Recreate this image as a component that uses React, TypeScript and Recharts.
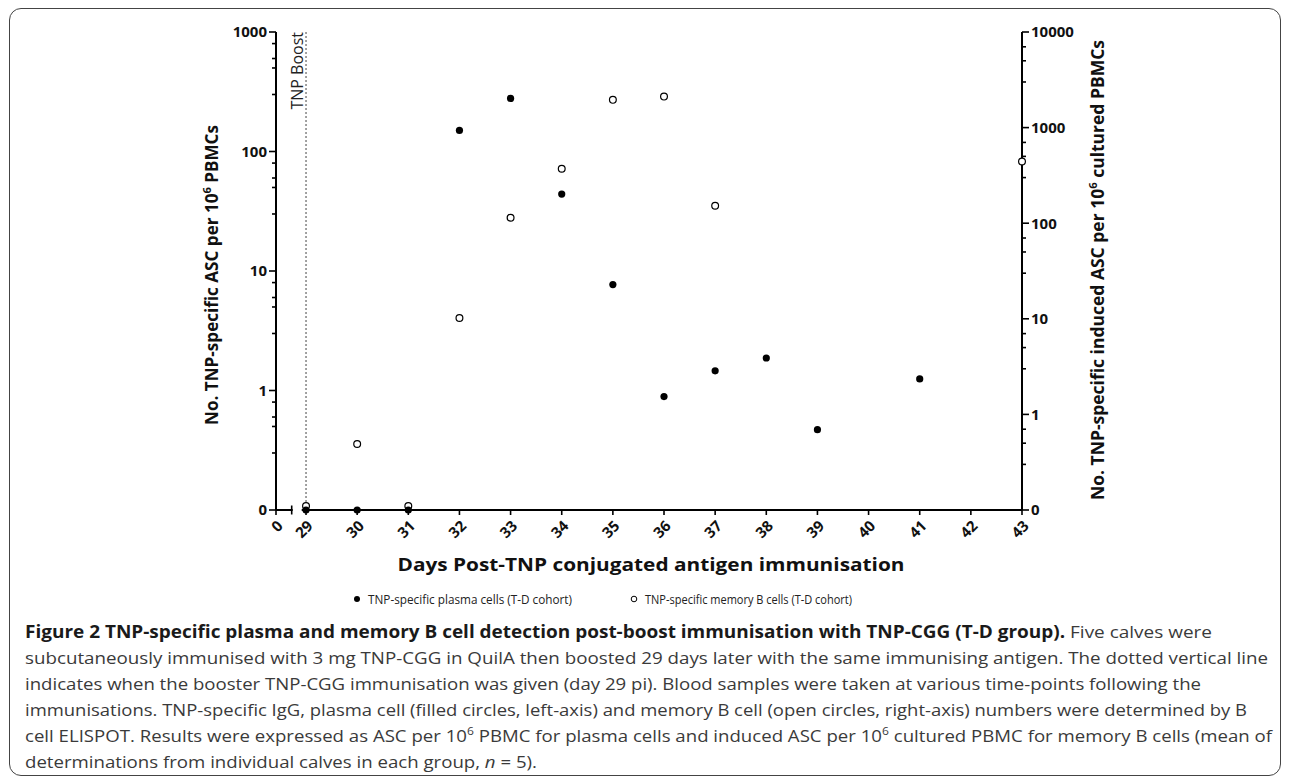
import React from "react";
import { ScatterChart, Scatter, XAxis, YAxis, ReferenceLine } from "recharts";

// values (0 = below detection, drawn on the "0" tick)
const plasmaDays = [29, 30, 31, 32, 33, 34, 35, 36, 37, 38, 39, 41];
const plasmaCells = [0, 0, 0, 150, 278, 44, 7.7, 0.89, 1.46, 1.87, 0.47, 1.25];
const memoryDays = [29, 30, 31, 32, 33, 34, 35, 36, 37, 43];
const memoryCells = [0.11, 0.49, 0.11, 10.2, 114, 371, 1950, 2110, 152, 442];

const dayTicks = [0, 29, 30, 31, 32, 33, 34, 35, 36, 37, 38, 39, 40, 41, 42, 43];
const leftMajors = [0, 1, 10, 100, 1000];
const rightMajors = [0, 1, 10, 100, 1000, 10000];
const leftMinorSteps = [3, 5, 6, 8];
const rightMinorSteps = [3, 5, 7];

// log axes can't show 0, so "0" sits one decade under 1
const LOG_FLOOR = 0.1;
// broken x axis: day 0 is squeezed in just left of day 29
const X_ZERO = 28.413;
const X_BREAK = 28.72;

const FONT = "'Open Sans', sans-serif";

const toLog = (v: number) => (v === 0 ? LOG_FLOOR : v);
const plasmaData = plasmaDays.map((d, i) => ({ day: d, value: toLog(plasmaCells[i]) }));
const memoryData = memoryDays.map((d, i) => ({ day: d, value: toLog(memoryCells[i]) }));

function logTicks(majors: number[], steps: number[]) {
  const out: number[] = [];
  majors.forEach((m, i) => {
    const base = toLog(m);
    out.push(base);
    if (i < majors.length - 1) steps.forEach((s) => out.push(base * s));
  });
  return out;
}

function majorLabel(v: number, majors: number[]) {
  const hit = majors.find((m) => Math.abs(toLog(m) - v) < 1e-9);
  return hit === undefined ? null : String(hit);
}

const leftTicks = logTicks(leftMajors, leftMinorSteps);
const rightTicks = logTicks(rightMajors, rightMinorSteps);
const xTicks = [...dayTicks.map((d) => (d === 0 ? X_ZERO : d)), X_BREAK];

const LeftTick = (p: any) => {
  const label = majorLabel(p.payload.value, leftMajors);
  return (
    <g>
      <line x1={p.x} x2={p.x - (label ? 7 : 4)} y1={p.y} y2={p.y} stroke="#000" strokeWidth={1.6} />
      {label && (
        <text x={p.x - 9} y={p.y} dy="0.36em" textAnchor="end" fontFamily={FONT} fontWeight={700} fontSize={15} fill="#111">
          {label}
        </text>
      )}
    </g>
  );
};

const RightTick = (p: any) => {
  const label = majorLabel(p.payload.value, rightMajors);
  return (
    <g>
      <line x1={p.x} x2={p.x + (label ? 7 : 4)} y1={p.y} y2={p.y} stroke="#000" strokeWidth={1.6} />
      {label && (
        <text x={p.x + 9} y={p.y} dy="0.36em" textAnchor="start" fontFamily={FONT} fontWeight={700} fontSize={15} fill="#111">
          {label}
        </text>
      )}
    </g>
  );
};

const DayTick = (p: any) => {
  const v = p.payload.value;
  if (Math.abs(v - X_BREAK) < 1e-9) {
    // axis break: blank the line up to day 29 and draw the end cap
    return (
      <g>
        <rect x={p.x + 1} y={p.y - 3} width={9} height={6} fill="#fff" />
        <line x1={p.x} x2={p.x} y1={p.y - 4.5} y2={p.y + 4.5} stroke="#000" strokeWidth={1.6} />
      </g>
    );
  }
  const label = Math.abs(v - X_ZERO) < 1e-9 ? "0" : String(v);
  const ax = p.x + 4;
  const ay = p.y + 13;
  return (
    <g>
      <line x1={p.x} x2={p.x} y1={p.y} y2={p.y + 5} stroke="#000" strokeWidth={1.6} />
      <text
        x={ax}
        y={ay}
        dy="0.36em"
        textAnchor="end"
        transform={`rotate(-45 ${ax} ${ay})`}
        fontFamily={FONT}
        fontWeight={700}
        fontSize={15}
        fill="#111"
      >
        {label}
      </text>
    </g>
  );
};

const FilledDot = (p: any) => <circle cx={p.cx} cy={p.cy} r={3.6} fill="#000" />;
const OpenDot = (p: any) => (
  <circle cx={p.cx} cy={p.cy} r={3.4} fill="#fff" stroke="#000" strokeWidth={1.2} />
);

const BoostLabel = (p: any) => {
  const vb = p.viewBox || { x: 0, y: 0 };
  const x = vb.x - 3;
  const y = vb.y;
  return (
    <text x={x} y={y} textAnchor="end" transform={`rotate(-90 ${x} ${y})`} fontFamily={FONT} fontSize={16} fill="#222">
      TNP Boost
    </text>
  );
};

const captionLines = [
  "subcutaneously immunised with 3 mg TNP-CGG in QuilA then boosted 29 days later with the same immunising antigen. The dotted vertical line",
  "indicates when the booster TNP-CGG immunisation was given (day 29 pi). Blood samples were taken at various time-points following the",
  "immunisations. TNP-specific IgG, plasma cell (filled circles, left-axis) and memory B cell (open circles, right-axis) numbers were determined by B",
];
const captionLengths = [1243, 1176, 1222];

export default function App() {
  return (
    <div style={{ position: "absolute", left: 0, top: 0, width: 1290, height: 784, background: "#fff" }}>
      <div
        style={{
          position: "absolute",
          left: 9,
          top: 8,
          width: 1272,
          height: 768,
          border: "1.5px solid #444",
          borderRadius: 12,
          boxSizing: "border-box",
        }}
      />
      <div style={{ position: "absolute", left: 0, top: 0 }}>
        <ScatterChart width={1290} height={620} margin={{ top: 32, right: 0, bottom: 50, left: 0 }}>
          <XAxis
            type="number"
            dataKey="day"
            domain={[X_ZERO, 43]}
            ticks={xTicks}
            interval={0}
            height={60}
            axisLine={{ stroke: "#000", strokeWidth: 2 }}
            tickLine={false}
            tickSize={0}
            tickMargin={0}
            tick={<DayTick />}
          />
          <YAxis
            yAxisId="left"
            orientation="left"
            type="number"
            dataKey="value"
            scale="log"
            domain={[LOG_FLOOR, 1000]}
            ticks={leftTicks}
            interval={0}
            width={276}
            axisLine={{ stroke: "#000", strokeWidth: 2 }}
            tickLine={false}
            tickSize={0}
            tickMargin={0}
            tick={<LeftTick />}
          />
          <YAxis
            yAxisId="right"
            orientation="right"
            type="number"
            dataKey="value"
            scale="log"
            domain={[LOG_FLOOR, 10000]}
            ticks={rightTicks}
            interval={0}
            width={268}
            axisLine={{ stroke: "#000", strokeWidth: 2 }}
            tickLine={false}
            tickSize={0}
            tickMargin={0}
            tick={<RightTick />}
          />
          <ReferenceLine
            x={29}
            yAxisId="left"
            stroke="#444"
            strokeWidth={1}
            strokeDasharray="2 2"
            label={<BoostLabel />}
          />
          <Scatter name="memory" data={memoryData} yAxisId="right" shape={OpenDot} isAnimationActive={false} />
          <Scatter name="plasma" data={plasmaData} yAxisId="left" shape={FilledDot} isAnimationActive={false} />
        </ScatterChart>
      </div>
      <svg width={1290} height={784} style={{ position: "absolute", left: 0, top: 0, pointerEvents: "none" }}>
        <text
          x={212}
          y={275}
          textAnchor="middle"
          dy="0.36em"
          transform="rotate(-90 212 275)"
          fontFamily={FONT}
          fontWeight={700}
          fontSize={17}
          fill="#111"
          textLength={300}
          lengthAdjust="spacingAndGlyphs"
        >
          No. TNP-specific ASC per 10<tspan dy={-7} fontSize={11}>6</tspan>
          <tspan dy={7}> PBMCs</tspan>
        </text>
        <text
          x={1098}
          y={270}
          textAnchor="middle"
          dy="0.36em"
          transform="rotate(-90 1098 270)"
          fontFamily={FONT}
          fontWeight={700}
          fontSize={17}
          fill="#111"
          textLength={460}
          lengthAdjust="spacingAndGlyphs"
        >
          No. TNP-specific induced ASC per 10<tspan dy={-7} fontSize={11}>6</tspan>
          <tspan dy={7}> cultured PBMCs</tspan>
        </text>
        <text
          x={651}
          y={565}
          dy="0.36em"
          textAnchor="middle"
          fontFamily={FONT}
          fontWeight={700}
          fontSize={17}
          fill="#111"
          textLength={507}
          lengthAdjust="spacingAndGlyphs"
        >
          Days Post-TNP conjugated antigen immunisation
        </text>

        <circle cx={357} cy={599} r={3} fill="#000" />
        <text x={368} y={599} dy="0.36em" fontFamily={FONT} fontSize={13} fill="#222" textLength={204} lengthAdjust="spacingAndGlyphs">
          TNP-specific plasma cells (T-D cohort)
        </text>
        <circle cx={634} cy={599} r={2.8} fill="#fff" stroke="#000" strokeWidth={1} />
        <text x={645} y={599} dy="0.36em" fontFamily={FONT} fontSize={13} fill="#222" textLength={207} lengthAdjust="spacingAndGlyphs">
          TNP-specific memory B cells (T-D cohort)
        </text>

        <text x={25} y={632} dy="0.36em" fontFamily={FONT} fontSize={17} fill="#3a3a3a" textLength={1187} lengthAdjust="spacingAndGlyphs">
          <tspan fontWeight={700} fill="#1a1a1a">
            Figure 2 TNP-specific plasma and memory B cell detection post-boost immunisation with TNP-CGG (T-D group).
          </tspan>
          <tspan> Five calves were</tspan>
        </text>
        {captionLines.map((line, i) => (
          <text
            key={i}
            x={25}
            y={658 + i * 26}
            dy="0.36em"
            fontFamily={FONT}
            fontSize={17}
            fill="#3a3a3a"
            textLength={captionLengths[i]}
            lengthAdjust="spacingAndGlyphs"
          >
            {line}
          </text>
        ))}
        <text x={25} y={736} dy="0.36em" fontFamily={FONT} fontSize={17} fill="#3a3a3a" textLength={1247} lengthAdjust="spacingAndGlyphs">
          cell ELISPOT. Results were expressed as ASC per 10<tspan dy={-7} fontSize={11}>6</tspan>
          <tspan dy={7}> PBMC for plasma cells and induced ASC per 10</tspan>
          <tspan dy={-7} fontSize={11}>6</tspan>
          <tspan dy={7}> cultured PBMC for memory B cells (mean of</tspan>
        </text>
        <text x={25} y={762} dy="0.36em" fontFamily={FONT} fontSize={17} fill="#3a3a3a" textLength={512} lengthAdjust="spacingAndGlyphs">
          determinations from individual calves in each group, <tspan fontStyle="italic">n</tspan> = 5).
        </text>
      </svg>
    </div>
  );
}
